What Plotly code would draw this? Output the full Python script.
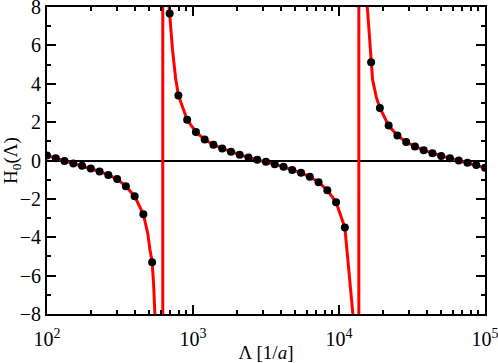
import plotly.graph_objects as go

# sampled points (black dots)
lam_pts = [100, 114.8, 131.8, 151.4, 173.8, 199.5, 229.1, 263.0, 302.0, 346.7,
           398.1, 457.1, 524.8,
           691.8, 794.3, 912.0, 1047, 1202, 1380, 1585, 1820, 2089, 2399,
           2754, 3162, 3631, 4169, 4786, 5495, 6310, 7244, 8318, 9550, 10965,
           16596, 19055, 21878, 25119, 28840, 33113, 38019, 43652, 50119,
           57544, 66069, 75858, 87096, 100000]
h0_pts = [0.26, 0.12, -0.02, -0.16, -0.28, -0.42, -0.57, -0.75, -0.97, -1.34,
          -1.86, -2.80, -5.30,
          7.66, 3.39, 2.12, 1.49, 1.09, 0.82, 0.63, 0.45, 0.30, 0.16,
          0.04, -0.07, -0.19, -0.33, -0.49, -0.64, -0.85, -1.13, -1.55, -2.17, -3.49,
          5.12, 2.74, 1.82, 1.30, 0.97, 0.73, 0.54, 0.38, 0.24,
          0.12, 0.0, -0.12, -0.24, -0.38]

# continuous curve (red), denser near the poles
lam_curve = [100, 114.8, 131.8, 151.4, 173.8, 199.5, 229.1, 263.0, 302.0, 346.7,
             398.1, 457.1, 490, 507, 524.8, 537, 552, 570, 590, 610, 620,
             622, 640, 660, 676, 691.8, 724, 760, 794.3, 912.0, 1047, 1202,
             1380, 1585, 1820, 2089, 2399, 2754, 3162, 3631, 4169, 4786, 5495,
             6310, 7244, 8318, 9550, 10965, 11640, 12450, 12900, 13300, 13650,
             13700, 14100, 14800, 15630, 16596, 16980, 18000, 19055, 21878,
             25119, 28840, 33113, 38019, 43652, 50119, 57544, 66069, 75858,
             87096, 100000]
h0_curve = [0.26, 0.12, -0.02, -0.16, -0.28, -0.42, -0.57, -0.75, -0.97, -1.34,
            -1.86, -2.80, -3.8, -4.64, -5.30, -6.4, -8.0, -11, -18, -60, -400,
            400, 25, 12, 8.6, 7.66, 5.76, 4.3, 3.39, 2.12, 1.49, 1.09,
            0.82, 0.63, 0.45, 0.30, 0.16, 0.04, -0.07, -0.19, -0.33, -0.49, -0.64,
            -0.85, -1.13, -1.55, -2.17, -3.49, -5.77, -8.0, -11, -20, -400,
            400, 30, 12.5, 8.0, 5.12, 4.22, 3.3, 2.74, 1.82,
            1.30, 0.97, 0.73, 0.54, 0.38, 0.24, 0.12, 0.0, -0.12,
            -0.24, -0.38]

x_ticks = [100, 1000, 10000, 100000]
x_ticktext = ["10<sup>2</sup>", "10<sup>3</sup>", "10<sup>4</sup>", "10<sup>5</sup>"]
x_minor = [m * d for d in (100, 1000, 10000) for m in range(2, 10)]

serif = "Liberation Serif"

fig = go.Figure()
fig.add_trace(go.Scatter(x=lam_curve, y=h0_curve, mode="lines",
                         line=dict(color="#ff0000", width=3), showlegend=False))
fig.add_trace(go.Scatter(x=lam_pts, y=h0_pts, mode="markers",
                         marker=dict(color="black", size=8), showlegend=False))

axis_common = dict(showline=True, linecolor="black", linewidth=2, mirror="ticks",
                   ticks="inside", ticklen=9, tickwidth=1.5, tickcolor="black",
                   showgrid=False, automargin=False, ticklabeloverflow="allow",
                   tickfont=dict(family=serif, size=20, color="black"))

fig.update_xaxes(type="log", range=[2, 5], tickvals=x_ticks, ticktext=x_ticktext,
                 minor=dict(tickmode="array", tickvals=x_minor, ticks="inside",
                            ticklen=4, tickwidth=1.5, tickcolor="black"),
                 ticklabelstandoff=6,
                 title=dict(text="Λ [1/<i>a</i>]",
                            font=dict(family=serif, size=19, color="black"),
                            standoff=2),
                 zeroline=False, **axis_common)
fig.update_yaxes(range=[-8, 8], dtick=2, tick0=0,
                 minor=dict(dtick=1, ticks="inside", ticklen=4, tickwidth=1.5,
                            tickcolor="black"),
                 zeroline=True, zerolinecolor="black", zerolinewidth=1.5,
                 title=dict(text="H<sub>0</sub>(Λ)",
                            font=dict(family=serif, size=19, color="black"),
                            standoff=0),
                 **axis_common)

fig.update_layout(width=498, height=363,
                  margin=dict(l=47, r=13, t=7, b=49, autoexpand=False),
                  paper_bgcolor="white", plot_bgcolor="white",
                  font=dict(family=serif, color="black"))

fig.write_html("out.html", config={"displayModeBar": False},
               post_script="document.body.style.margin='0';")
